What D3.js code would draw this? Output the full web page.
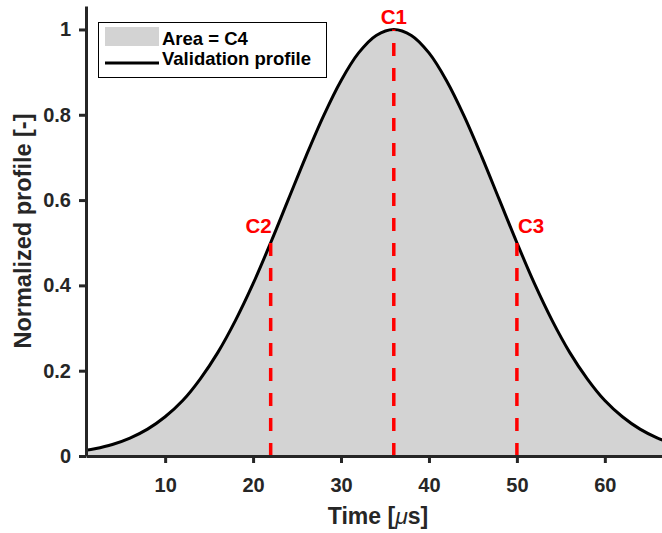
<!DOCTYPE html>
<html lang="en">
<head>
    <meta charset="UTF-8">
    <title>Normalized profile</title>
    <script src="https://d3js.org/d3.v7.min.js"></script>
    <style>
        body { margin: 0; background: #fff; }
        text { font-family: "Liberation Sans", Arial, sans-serif; font-weight: bold; }
    </style>
</head>
<body>
    <div id="chart"></div>

    <script>
        // values
        const times = [0, 2, 4, 6, 8, 10, 12, 14, 16, 18, 20, 22, 24, 26, 28, 30, 32, 34,
                       36, 38, 40, 42, 44, 46, 48, 50, 52, 54, 56, 58, 60, 62, 64, 66, 68];
        const profile = [0.010, 0.017, 0.027, 0.042, 0.063, 0.092, 0.130, 0.181, 0.243, 0.318,
                         0.404, 0.500, 0.601, 0.702, 0.797, 0.880, 0.945, 0.986,
                         1.000, 0.986, 0.945, 0.880, 0.797, 0.702, 0.601, 0.500, 0.404,
                         0.318, 0.243, 0.181, 0.130, 0.092, 0.063, 0.042, 0.027];

        const markerNames = ["C1", "C2", "C3"];
        const markerTimes = [36, 22, 50];
        const markerLevels = [1, 0.5, 0.5];

        const xTicks = [10, 20, 30, 40, 50, 60];
        const yTicks = [0, 0.2, 0.4, 0.6, 0.8, 1];

        const width = 662;
        const height = 533;
        const margin = { top: 6, right: 0, bottom: 77, left: 86 };
        const axisColor = "#262626";

        const svg = d3.select("#chart")
            .append("svg")
            .attr("width", width)
            .attr("height", height);

        const x = d3.scaleLinear()
            .domain([1, 66.5])
            .range([margin.left, width - margin.right]);

        const y = d3.scaleLinear()
            .domain([0, 1.055])
            .range([height - margin.bottom, margin.top]);

        const pts = times.map((t, i) => [t, profile[i]]);

        svg.append("clipPath").attr("id", "plot")
            .append("rect")
            .attr("x", margin.left).attr("y", 0)
            .attr("width", width - margin.left)
            .attr("height", height - margin.bottom);

        const g = svg.append("g").attr("clip-path", "url(#plot)");

        // filled area (C4)
        g.append("path")
            .datum(pts)
            .attr("fill", "#d3d3d3")
            .attr("d", d3.area()
                .x(d => x(d[0]))
                .y0(y(0))
                .y1(d => y(d[1]))
                .curve(d3.curveCatmullRom));

        // validation profile
        g.append("path")
            .datum(pts)
            .attr("fill", "none")
            .attr("stroke", "#000")
            .attr("stroke-width", 3)
            .attr("d", d3.line()
                .x(d => x(d[0]))
                .y(d => y(d[1]))
                .curve(d3.curveCatmullRom));

        // red dashed markers, drawn from the bottom up
        markerNames.forEach((name, i) => {
            svg.append("path")
                .attr("d", d3.line()([[x(markerTimes[i]), y(0)], [x(markerTimes[i]), y(markerLevels[i])]]))
                .attr("stroke", "#ff0000")
                .attr("stroke-width", 3.5)
                .attr("stroke-dasharray", "13,12");
        });

        // axes
        const xAxis = svg.append("g")
            .attr("transform", `translate(0,${y(0)})`)
            .call(d3.axisBottom(x).tickValues(xTicks).tickSize(7).tickSizeOuter(0).tickPadding(15));

        const yAxis = svg.append("g")
            .attr("transform", `translate(${margin.left},0)`)
            .call(d3.axisLeft(y).tickValues(yTicks).tickFormat(d3.format("~g")).tickSize(7).tickSizeOuter(0).tickPadding(8));

        [xAxis, yAxis].forEach(a => {
            a.select(".domain").attr("stroke", axisColor).attr("stroke-width", 3);
            a.selectAll(".tick line").attr("stroke", axisColor).attr("stroke-width", 3);
            a.selectAll(".tick text")
                .attr("fill", axisColor)
                .style("font-size", "20px")
                .style("font-family", "'Liberation Sans', Arial, sans-serif")
                .style("font-weight", "bold");
        });

        // marker labels
        const labelAnchor = ["middle", "end", "start"];
        const labelDx = [0, 1, 1];
        const labelDy = [-5, -10, -10];
        markerNames.forEach((name, i) => {
            svg.append("text")
                .attr("x", x(markerTimes[i]) + labelDx[i])
                .attr("y", y(markerLevels[i]) + labelDy[i])
                .attr("text-anchor", labelAnchor[i])
                .attr("fill", "#ff0000")
                .style("font-size", "20.5px")
                .text(name);
        });

        // axis titles
        const xt = svg.append("text")
            .attr("x", (margin.left + width - margin.right) / 2 + 4)
            .attr("y", 524)
            .attr("text-anchor", "middle")
            .attr("fill", axisColor)
            .style("font-size", "23px");
        xt.append("tspan").text("Time [");
        xt.append("tspan").style("font-style", "italic").style("font-weight", "normal").text("μ");
        xt.append("tspan").text("s]");

        svg.append("text")
            .attr("transform", `translate(31,${(y(0) + margin.top) / 2}) rotate(-90)`)
            .attr("text-anchor", "middle")
            .attr("fill", axisColor)
            .style("font-size", "23.5px")
            .text("Normalized profile [-]");

        // legend
        const lg = svg.append("g");
        lg.append("rect")
            .attr("x", 98.5).attr("y", 22.5)
            .attr("width", 228).attr("height", 55)
            .attr("fill", "#fff")
            .attr("stroke", "#000")
            .attr("stroke-width", 1);
        lg.append("rect")
            .attr("x", 105).attr("y", 27)
            .attr("width", 54).attr("height", 19)
            .attr("fill", "#d3d3d3");
        lg.append("line")
            .attr("x1", 105).attr("x2", 159)
            .attr("y1", 63).attr("y2", 63)
            .attr("stroke", "#000")
            .attr("stroke-width", 3);
        lg.append("text")
            .attr("x", 162).attr("y", 45)
            .attr("fill", "#000")
            .style("font-size", "18.5px")
            .text("Area = C4");
        lg.append("text")
            .attr("x", 162).attr("y", 64.5)
            .attr("fill", "#000")
            .style("font-size", "18.5px")
            .text("Validation profile");
    </script>
</body>
</html>
